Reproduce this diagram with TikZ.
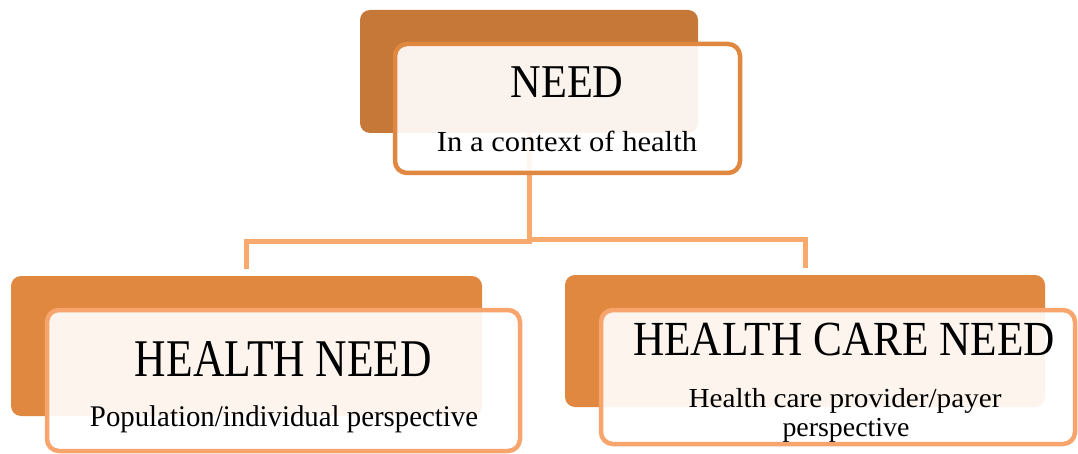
\documentclass[tikz,border=0pt]{standalone}
\usepackage{fontspec}
\setmainfont{Liberation Serif}
\usepackage{graphicx}
% text set at a given size and stretched to a given width
\newcommand{\fittxt}[3]{\resizebox{#1pt}{\height}{\fontsize{#2pt}{#2pt}\selectfont #3}}

\definecolor{topback}{HTML}{C57838}
\definecolor{topedge}{HTML}{E08740}
\definecolor{lowback}{HTML}{E08840}
\definecolor{lowedge}{HTML}{F7A56C}
\definecolor{linkcol}{HTML}{F8A96E}

\tikzset{
  backbox/.style={rectangle, rounded corners=10pt, draw=none, inner sep=0pt, outer sep=0pt},
  frontbox/.style={rectangle, rounded corners=12pt, line width=4.5pt, fill=white,
                   fill opacity=0.91, draw opacity=1, inner sep=0pt, outer sep=0pt},
  link/.style={draw=linkcol, line width=5pt},
  txt/.style={anchor=base, inner sep=0pt, outer sep=0pt, text=black}
}

\begin{document}
\begin{tikzpicture}[x=1pt, y=-1pt]
  \useasboundingbox (0,0) rectangle (1078,454);
  \fill[white] (0,0) rectangle (1078,454);

  % back plates
  \node[backbox, fill=topback, minimum width=338pt, minimum height=123pt] (needback) at (529,71.5) {};
  \node[backbox, fill=lowback, minimum width=471pt, minimum height=140pt] (hnback) at (246.5,346) {};
  \node[backbox, fill=lowback, minimum width=480pt, minimum height=132pt] (hcnback) at (805,341) {};

  % connectors
  \draw[link, shorten >=7pt] (needback.south) -- ++(0,108.5) -| (hnback.north);
  \draw[link, shorten >=7pt] (needback.south) -- ++(0,107) -| (hcnback.north);

  % front cards
  \node[frontbox, draw=topedge, minimum width=345pt, minimum height=129pt] (needfront) at (567.5,108.5) {};
  \node[frontbox, draw=lowedge, minimum width=473pt, minimum height=141pt] (hnfront) at (283.5,380.5) {};
  \node[frontbox, draw=lowedge, minimum width=474pt, minimum height=134pt] (hcnfront) at (838,377) {};

  % labels
  \node[txt] (needtitle) at (567,98) {\fittxt{113}{47}{NEED}};
  \node[txt] (needsub) at (567,152) {\fittxt{260}{29}{In a context of health}};

  \node[txt] (hntitle) at (283.5,376) {\fittxt{297}{53}{HEALTH NEED}};
  \node[txt] (hnsub) at (284,426) {\fittxt{388}{30}{Population/individual perspective}};

  \node[txt] (hcntitle) at (844,355) {\fittxt{422}{49}{HEALTH CARE NEED}};
  \node[txt] (hcnsubA) at (845,407) {\fittxt{313}{27.5}{Health care provider/payer}};
  \node[txt] (hcnsubB) at (846,436) {\fittxt{127}{27.5}{perspective}};
\end{tikzpicture}
\end{document}
